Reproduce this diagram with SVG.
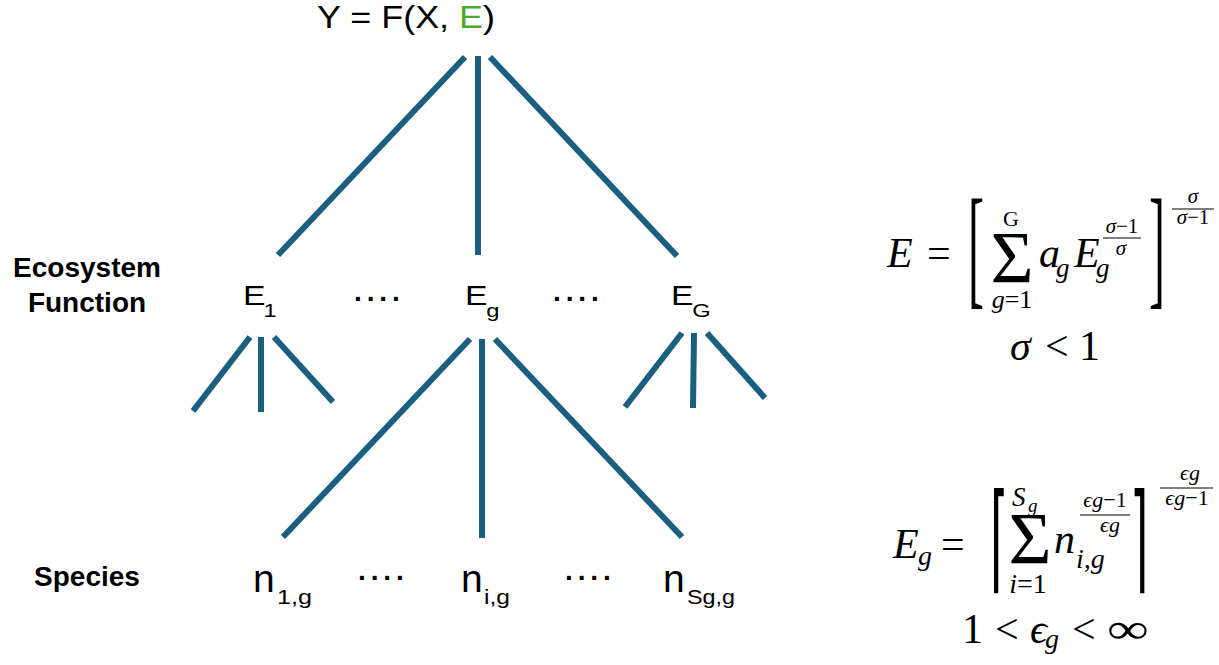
<svg xmlns="http://www.w3.org/2000/svg" width="1219" height="665" viewBox="0 0 1219 665">
<style>
.t{font-family:"Liberation Sans",Arial,sans-serif;fill:#000}
.b{font-family:"Liberation Sans",Arial,sans-serif;font-weight:bold;font-size:28px;fill:#000;text-anchor:middle}
.d{font-family:"Liberation Sans",Arial,sans-serif;font-weight:bold;font-size:28px;letter-spacing:4.9px;fill:#000}
.m{font-family:"Liberation Serif","Times New Roman",serif;fill:#000}
.i{font-style:italic}
.c{text-anchor:middle}
.ln{stroke:#1a5f80;stroke-width:6;fill:none}
.bar{stroke:#000;stroke-width:1.2}
</style>
<rect width="1219" height="665" fill="#fff"/>
<g id="connectors">
<line class="ln" x1="465" y1="57" x2="278" y2="255"/>
<line class="ln" x1="478" y1="56" x2="478" y2="255"/>
<line class="ln" x1="490" y1="57" x2="677" y2="256"/>
<line class="ln" x1="250" y1="337" x2="193" y2="411"/>
<line class="ln" x1="261" y1="337" x2="261" y2="412"/>
<line class="ln" x1="274" y1="337" x2="333" y2="402"/>
<line class="ln" x1="682" y1="333" x2="625" y2="407"/>
<line class="ln" x1="694" y1="333" x2="693" y2="408"/>
<line class="ln" x1="707" y1="333" x2="765" y2="398"/>
<line class="ln" x1="470" y1="339" x2="283" y2="537"/>
<line class="ln" x1="482" y1="339" x2="482" y2="538"/>
<line class="ln" x1="495" y1="339" x2="682" y2="537"/>
</g>
<g id="root"><text class="t" x="317" y="28" font-size="31" textLength="178" lengthAdjust="spacingAndGlyphs">Y = F(X, <tspan fill="#4ea72e">E</tspan>)</text></g>
<g id="label-ecosystem"><text class="b" x="87" y="277">Ecosystem</text><text class="b" x="87" y="312">Function</text></g>
<g id="label-species"><text class="b" x="87" y="586">Species</text></g>
<g id="E1"><text class="t" transform="translate(243,305) scale(1.25,1)" font-size="27">E<tspan x="16.5" y="12" font-size="19">1</tspan></text></g>
<g id="dots1"><text class="d" x="354" y="301">....</text></g>
<g id="Eg"><text class="t" transform="translate(465,305) scale(1.25,1)" font-size="27">E<tspan x="17" y="12" font-size="19">g</tspan></text></g>
<g id="dots2"><text class="d" x="553" y="301">....</text></g>
<g id="EG"><text class="t" transform="translate(671,305) scale(1.25,1)" font-size="27">E<tspan x="17" y="12" font-size="19">G</tspan></text></g>
<g id="n1g"><text class="t" x="253" y="592" font-size="39">n</text><text class="t" x="277" y="604" font-size="21" textLength="35" lengthAdjust="spacingAndGlyphs">1,g</text></g>
<g id="dots3"><text class="d" x="358" y="580">....</text></g>
<g id="nig"><text class="t" x="461" y="592" font-size="39">n</text><text class="t" x="484" y="604" font-size="21" textLength="26" lengthAdjust="spacingAndGlyphs">i,g</text></g>
<g id="dots4"><text class="d" x="565" y="580">....</text></g>
<g id="nSgg"><text class="t" x="663" y="592" font-size="39">n</text><text class="t" x="687" y="604" font-size="21" textLength="48" lengthAdjust="spacingAndGlyphs">Sg,g</text></g>
<g id="formula-E">
<text class="m i" x="887" y="267" font-size="42">E</text>
<text class="m" x="927" y="267" font-size="42">=</text>
<text class="m" transform="translate(968,291) scale(0.36,1)" font-size="133">[</text>
<text class="m c" x="1012" y="283" font-size="74">Σ</text>
<text class="m c" x="1011" y="226" font-size="22">G</text>
<text class="m c" x="1012" y="308" font-size="26"><tspan class="i">g</tspan>=1</text>
<text class="m i" x="1039" y="267" font-size="42">a</text>
<text class="m i" x="1056" y="277" font-size="27">g</text>
<text class="m i" x="1074" y="267" font-size="42">E</text>
<text class="m i" x="1096" y="277" font-size="27">g</text>
<text class="m c" x="1122" y="233" font-size="21"><tspan class="i">σ</tspan>−1</text>
<line class="bar" x1="1103" y1="238" x2="1141" y2="238"/>
<text class="m i c" x="1121" y="255" font-size="21">σ</text>
<text class="m" transform="translate(1149,291) scale(0.36,1)" font-size="133">]</text>
<text class="m i c" x="1193" y="203" font-size="21">σ</text>
<line class="bar" x1="1172" y1="209" x2="1214" y2="209"/>
<text class="m c" x="1193" y="224" font-size="21"><tspan class="i">σ</tspan>−1</text>
<text class="m i" x="1010" y="360" font-size="42">σ</text>
<text class="m" x="1045" y="360" font-size="42">&lt;</text>
<text class="m" x="1079" y="360" font-size="42">1</text>
</g>
<g id="formula-Eg">
<text class="m i" x="893" y="558" font-size="42">E</text>
<text class="m i" x="918" y="565" font-size="28">g</text>
<text class="m" x="941" y="558" font-size="42">=</text>
<text class="m" transform="translate(990,578) scale(0.4,1)" font-size="118" style="font-family:'DejaVu Sans',sans-serif">⌈</text>
<text class="m c" x="1030" y="564" font-size="74">Σ</text>
<text class="m i" x="1012" y="506" font-size="27">S</text>
<text class="m i" x="1028" y="512" font-size="19">g</text>
<text class="m c" x="1028" y="593" font-size="28"><tspan class="i">i</tspan>=1</text>
<text class="m i" x="1054" y="553" font-size="42">n</text>
<text class="m i" x="1076" y="568" font-size="28">i,g</text>
<text class="m c" x="1105" y="507" font-size="22"><tspan class="i">ϵg</tspan>−1</text>
<line class="bar" x1="1080" y1="515" x2="1130" y2="515"/>
<text class="m i c" x="1110" y="532" font-size="22">ϵg</text>
<text class="m" transform="translate(1130,578) scale(0.4,1)" font-size="118" style="font-family:'DejaVu Sans',sans-serif">⌉</text>
<text class="m i c" x="1190" y="480" font-size="22">ϵg</text>
<line class="bar" x1="1160" y1="488" x2="1213" y2="488"/>
<text class="m c" x="1187" y="505" font-size="22"><tspan class="i">ϵg</tspan>−1</text>
<text class="m" x="962" y="643" font-size="42">1</text>
<text class="m" x="995" y="643" font-size="42">&lt;</text>
<text class="m i" x="1030" y="643" font-size="42">ϵ</text>
<text class="m i" x="1045" y="648" font-size="28">g</text>
<text class="m" x="1072" y="643" font-size="42">&lt;</text>
<text class="m" transform="translate(1107,643) scale(1.4,1)" font-size="42">∞</text>
</g>
</svg>
